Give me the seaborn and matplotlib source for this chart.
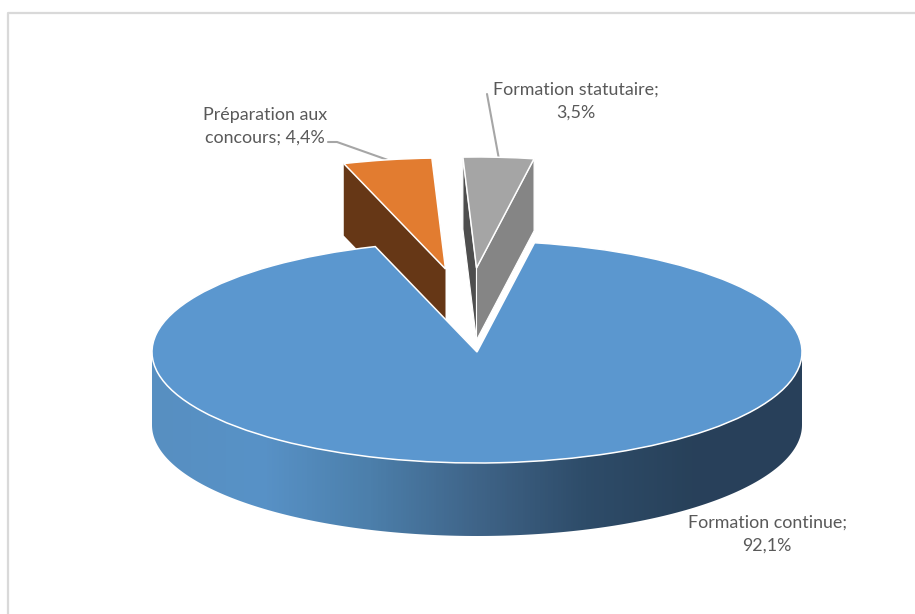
import numpy as np
import matplotlib.pyplot as plt
from matplotlib.patches import Polygon
from matplotlib.transforms import Affine2D
import seaborn as sns

# daten
categories = ["Formation continue", "Préparation aux concours", "Formation statutaire"]
values = [92.1, 4.4, 3.5]
label_texts = ["Formation continue;\n", "Préparation aux\nconcours; ", "Formation statutaire;\n"]

colors_top = ["#5b97cf", "#e27c30", "#a5a5a5"]
wall_gradient = ["#578fc1", "#5892c7", "#4c7fab", "#3f6488", "#2e4c69", "#28415a", "#28405a"]

sns.set_theme(style="white")
plt.rcParams["font.family"] = ["Lato", "DejaVu Sans"]

W, H = 915, 614
fig = plt.figure(figsize=(W / 100, H / 100), dpi=100)
ax = fig.add_axes([0, 0, 1, 1])

# geometrie der torte in pixeln
cx, cy = 477, H - 352
rx = 325
squash = 111 / 325
depth = 73
slice_depth = 72
start = 10.2  # grad im uhrzeigersinn von oben
offsets = [(0, 0), (-31.5, 83), (-0.5, 84)]


def rim(angle, off=(0, 0), drop=0):
    # punkt am rand, winkel von oben im uhrzeigersinn
    a = np.radians(angle)
    return (cx + off[0] + rx * np.sin(a), cy + off[1] + rx * squash * np.cos(a) - drop)


def apex(off=(0, 0), drop=0):
    return (cx + off[0], cy + off[1] - drop)


# winkel aus den werten
sweeps = np.array(values) / sum(values) * 360
edges = start + np.concatenate([[0], np.cumsum(sweeps)])

# deckflächen über pie, dann stauchen und verschieben
wedges, _ = ax.pie(values, colors=colors_top, radius=rx, startangle=90 - start,
                   counterclock=False, wedgeprops=dict(edgecolor="white", linewidth=1.1))
for w, off in zip(wedges, offsets):
    w.set_transform(Affine2D().scale(1, squash).translate(cx + off[0], cy + off[1]) + ax.transData)
wedges[0].set_zorder(5)
wedges[1].set_zorder(3)
wedges[2].set_zorder(3)

# seitenwand orange
a0 = edges[1]
wall = [rim(a0, offsets[1]), apex(offsets[1]), apex(offsets[1], slice_depth), rim(a0, offsets[1], slice_depth)]
ax.add_patch(Polygon(wall, closed=True, facecolor="#663716", edgecolor="none", zorder=1))

# seitenwände grau
a1, a2 = edges[2], edges[3]
wall = [rim(a1, offsets[2]), apex(offsets[2]), apex(offsets[2], slice_depth), rim(a1, offsets[2], slice_depth)]
ax.add_patch(Polygon(wall, closed=True, facecolor="#4e4e4e", edgecolor="white", linewidth=0.8, zorder=1))
wall = [rim(a2, offsets[2]), apex(offsets[2]), apex(offsets[2], slice_depth), rim(a2, offsets[2], slice_depth)]
ax.add_patch(Polygon(wall, closed=True, facecolor="#858585", edgecolor="white", linewidth=0.8, zorder=1))

# vordere wand mit farbverlauf
front = np.linspace(90, 270, 181)
wall = [rim(a) for a in front] + [rim(a, drop=depth) for a in front[::-1]]
clip = Polygon(wall, closed=True, facecolor="none", edgecolor="none", transform=ax.transData)
ax.add_patch(clip)
cmap = sns.blend_palette(wall_gradient, as_cmap=True)
im = ax.imshow(np.linspace(0, 1, 650)[None, :], cmap=cmap, aspect="auto", zorder=4,
               extent=(cx - rx, cx + rx, cy - rx * squash - depth, cy))
im.set_clip_path(clip)

# beschriftung
label_pos = [(767, 534.5), (265, 126), (576, 101)]
for name, val, pos in zip(label_texts, values, label_pos):
    txt = name + f"{val:.1f}%".replace(".", ",")
    ax.text(pos[0], H - pos[1], txt, ha="center", va="center", fontsize=12.9,
            color="#595959", linespacing=1.52, zorder=6)

# führungslinien zur mitte der segmente
mids = (edges[:-1] + edges[1:]) / 2
x, y = rim(mids[1], offsets[1])
ax.plot([328, 337, x], [H - 142, H - 142, y], color="#a6a6a6", lw=1.5, zorder=2)
x, y = rim(mids[2], offsets[2])
ax.plot([487, x], [H - 94, y], color="#a6a6a6", lw=1.5, zorder=2)

# rahmen oben und links
ax.plot([8, 8, W], [0, H - 13, H - 13], color="#d9d9d9", lw=1.6, zorder=0)

ax.set_xlim(0, W)
ax.set_ylim(0, H)
ax.set_axis_off()

plt.savefig("out.png", dpi=100)
